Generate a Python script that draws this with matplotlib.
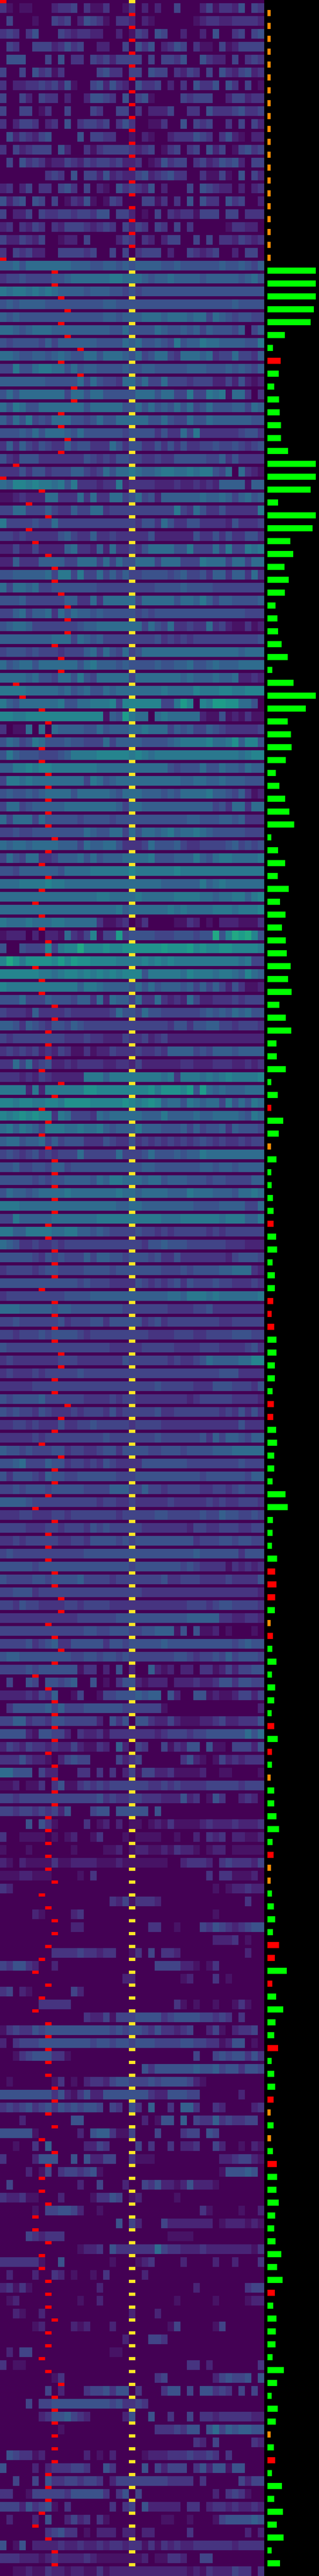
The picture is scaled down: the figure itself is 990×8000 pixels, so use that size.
from matplotlib import pyplot as plt
import numpy as np

# one string per row, 41 cells, hex level of the cell (groups of ten for reading)
heat_rows = [
"3101100023 3403113001 3020200400 0241332504 3",
"0400010043 4025431033 2021000000 1233223333 2",
"3430350004 3233220020 1430540020 0205003404 5",
"0430044423 5340022004 0535023540 3110412444 4",
"0555000405 0330434244 4404044350 0532204034 3",
"4004053413 0000045330 4405440324 3040532452 3",
"3022334342 5100452532 0533402030 5335053040 1",
"4004204330 2002554305 0451000043 4440024423 3",
"4004401300 4000430044 0302224003 3053334533 4",
"3024430230 5034434035 3001130050 4340030404 2",
"0524324500 0050443300 1021002333 5430352102 2",
"3042344405 2003134444 3234013403 4052401453 4",
"0405343122 4324344342 2301253440 3423545204 4",
"0000000343 0504425232 2452345330 0311410504 2",
"2302403304 5304021053 4325020004 0543220202 3",
"5245054040 1325101430 0044130305 0533053400 2",
"4022404334 4344355044 2010403233 1444044033 3",
"2303243032 4443234304 2430430403 0000013322 0",
"4224324001 2204000024 3032024400 4040332432 3",
"3043422004 4443400404 0344402004 3234002044 0",
"6675777777 7666556656 5666655655 5555655654 6",
"3445444455 6777777887 7765667666 6566666567 5",
"8788787876 6665666554 5455555555 5555555555 5",
"5656666555 5555556655 5555555555 5555556555 5",
"6565555555 5555556656 6677767776 7747654554 4",
"7765677766 6666666557 5555765565 6465554604 6",
"5455554646 6666655557 6755654856 6877666655 8",
"7765566567 6557757776 5745774377 7673447443 6",
"4485578877 5756655556 5566555556 6655565654 6",
"6666666555 5574754437 7574474443 4442242521 2",
"5757777777 4775775555 5777577448 4487817730 3",
"7587557777 7775777775 5757565757 4575556647 6",
"6475845477 7554575577 7775575447 5576666665 5",
"5556575777 6575555554 5555353374 8333333455 3",
"3636435433 6455333753 5533535353 3445445434 5",
"5325553333 3335434355 4433433555 5544635333 3",
"3335355344 4664347577 8766788778 7885470732 1",
"7699898878 5833323382 3333222322 3232666616 6",
"1123222773 3373733774 5745266666 6766764675 6",
"4477444643 3644773444 4444444843 7533533333 8",
"8444454474 4444444444 4355375335 5333325333 4",
"4434333335 6433633433 3335222222 5335353355 3",
"2242242222 6733262733 4357777558 4447484487 8",
"2263336666 4477747475 5777477744 4877747747 7",
"5566666748 8484474646 4455554564 4536636637 3",
"7477674455 5555544444 4444555565 5554444444 4",
"5556444444 6633737777 7477777577 6864665555 6",
"4467466737 5766565555 5454555555 5555555544 4",
"5677644444 4456677777 7747547334 3373421131 2",
"6666666677 7476564444 4444534343 4444444444 5",
"4555454443 4446747547 4577777777 7777777677 7",
"7567757777 7757866656 5555655667 5567666777 7",
"7777675547 7585477777 4777777767 6667667223 2",
"8888777776 7567557677 7777787777 9888998899 9",
"8657777778 5577888949 99999448b9 098bbaa775 0",
"9988999999 999999165b 8770787777 7211512131 1",
"3011707076 6665575666 7787774656 4465433333 4",
"5764587555 6554447466 6655556788 889778a699 5",
"5865554445 6888899999 8987888888 8888888789 9",
"6688989988 8888877777 7777775455 5755766576 6",
"4887877777 7774875677 7777777766 7766766655 5",
"5655656777 7577777657 7766656577 7786654631 2",
"4774566666 7777777764 7766666666 6664537737 7",
"7477747555 5545555455 5555555556 6555665633 3",
"4454455555 5557655774 7577678677 8765555544 4",
"7677677776 6647667753 3347555643 3444456454 5",
"4754773346 6675756667 7778555666 8657887777 8",
"5546666665 7777888888 9888888988 8888888888 8",
"7778888988 7777777777 7777766666 6867877777 7",
"7777777777 7777788777 7877777888 8776778868 9",
"7777777777 7777777786 7777778787 7778887888 9",
"8777877788 7777731123 0130000113 2010222111 3",
"1222020221 73249144b4 5555444555 455c59cbc9 5",
"5005444948 99c999a99a aaaaabaaab 9a99aa9999 8",
"9ca8aaaa9b 9baa999988 8898989888 8888888784 4",
"9999998878 9989898989 9958888879 8887887697 6",
"9888888888 8868876666 5757566656 4646425311 2",
"5557444655 5466372766 4733732327 4223334344 4",
"4333263333 4333333475 5475544444 4565657675 5",
"6653654355 4654444444 4444443553 5566443444 3",
"4344444444 3334332224 3342342222 2222222222 2",
"3434342324 3113122433 3433436666 4546665666 6",
"3374734522 3233332233 2422222233 2223332232 3",
"3332324322 2228886888 8888878388 8787898888 9",
"8888282888 888aa99999 999a8aaa9b 5b76766677 7",
"9989988998 aaaa99999a 989a967758 7677485758 7",
"989a9a9938 7444376777 7766686666 7667777658 7",
"7868764888 7787786566 6866655564 6455636555 4",
"6775667464 5553335433 5343434343 4543433434 4",
"4543453434 4474444474 4457555656 6877777777 7",
"5564455466 4555555555 5566555555 5665665666 6",
"5555545455 6666576887 7767756665 5545544446 6",
"5766567777 8777777787 7677776668 7776665778 7",
"8887777777 7777777766 7766666666 5555666644 7",
"4486666677 7777788888 8888877788 8888788866 8",
"8866888877 8866565444 4544343444 4434344444 4",
"7653343343 4444444444 4435565554 4444433322 2",
"5555543545 4446466554 5554533533 3333324555 4",
"3444434554 4445555455 5555544454 5555667773 2",
"5555555555 5545444333 3543434535 4445443334 3",
"3444444444 5555666666 6666667768 8878777777 8",
"7776666656 6555555554 4444443333 4453333333 3",
"4454444445 3444553555 5534534444 4444334444 4",
"4434445455 5543444444 4443333444 3344445554 4",
"5444444444 4444444333 3344444333 3444333345 3",
"3433333334 4433333335 4444443433 4576666779 9",
"3433343444 4454444444 4444444444 4444555333 3",
"3333344444 4444444444 4444544444 3335554443 5",
"5455556444 4443333434 4333333332 3444443333 2",
"5454435433 3434443534 4444533444 4444343535 3",
"3344343335 3344544444 3444433333 3333333533 3",
"3333343444 4444445444 4444544444 4536466546 6",
"6554544455 3443345535 5554455545 5556667777 7",
"5567444655 3443435433 3355555554 4444444544 4",
"5355543655 4455555544 4555555555 5455555546 6",
"4454555455 5554444666 4464434444 4334434544 4",
"6666544444 4444434433 4333334333 3343433444 3",
"3334433344 3444444434 4444554444 4544655445 4",
"4444333443 4443545444 4433333332 4433444334 4",
"3343444443 3443555545 4555555555 3444554554 4",
"4544444444 4445555555 5555555555 6555555355 5",
"5555545555 5555555555 4555555545 4333313232 3",
"5444455455 5564444344 4444453344 4333343333 5",
"4455534444 4444444444 4433333333 3333333333 2",
"4435443333 4434444333 3333333334 4434554444 3",
"3333333333 3344444455 5555555556 6666332233 2",
"4444444444 4445544555 4455666150 5112010001 0",
"4444534563 3555553554 5555565555 5555554565 5",
"5665555555 5445545545 4444444554 3445464555 4",
"4444545555 5513302050 2006212022 0331242445 5",
"0400540554 5600501035 5212220222 3223553554 4",
"2222324360 0140014455 5656605200 5512112442 4",
"0355555646 4445555554 4444410000 0000000000 2",
"4466344355 4444420535 0553224211 1223422333 5",
"5555215544 2032231333 3333234443 4455555575 7",
"2432433232 2421132062 0430041325 5051104442 5",
"3335322102 4544000042 3400000035 2101423233 3",
"7755504220 0033030302 4144223111 1200110000 1",
"1120113035 1134343444 4443343433 3344444344 4",
"4434444444 4444453433 4433322252 3015300232 0",
"4434434342 5000455055 5550500000 0000000000 0",
"0000505310 0003012020 1101213111 1232223222 3",
"3001111010 1200130001 0111100100 2032302211 2",
"1000100000 0100001120 1221121322 1012201111 1",
"2102111131 1222211121 1111110023 3320343332 4",
"1112211100 0010300000 0000000000 0030331112 0",
"3200000000 0000000000 0000000000 0001012232 2",
"0000000000 0000000324 1333200000 0000000030 0",
"0000021000 0230000000 0000000000 0001000000 0",
"0000000000 0220000000 0003300100 0435432345 5",
"0000000000 0000000000 0000000000 0002223010 0",
"0000000033 3343323300 1304033200 0000000020 0",
"4355320020 0000000000 0000444422 1013000000 0",
"0000000000 0000000002 2000000012 0003010000 0",
"3402100000 0420000000 0000000000 0000000000 0",
"0000003333 3000000000 0000000310 1001001310 0",
"0000000000 0003224144 4555534555 5443430300 0",
"1343354555 5555555454 5543533234 0024102334 0",
"2034445555 5555455455 4555444455 4433125501 0",
"0013455533 1000000000 0000000000 4004545535 3",
"0000000000 0000000000 0053555555 6556455355 4",
"0100000013 0102332455 4445455554 2100000000 0",
"5555555535 2135225555 5553225554 4000000200 0",
"3434534535 4545540430 5306003066 3003200002 3",
"0002000000 0550000000 0020155060 4336343344 0",
"5555510000 0020566311 4000400034 4054000000 0",
"0010030600 0002243000 0403003022 3004200102 1",
"3000025550 0505224400 3111000000 0000223442 1",
"0000201403 4434510000 0000000000 0000155565 0",
"0400000000 0020040002 0043522125 2221000000 0",
"3223110002 0000133540 1200000100 0000000000 0",
"0000010445 5420010000 0000000000 0310000100 2",
"0000000000 0000000050 4200042222 2220122212 1",
"0000432333 0000000000 0000001111 0000000000 0",
"0000000000 0012230533 3333743322 2322222221 3",
"3333331005 0000000100 0123000020 0002002000 3",
"0200020032 0100103000 0020000000 0000000000 0",
"2313100000 0000020000 0000000000 2000000034 4",
"0120000000 0010020000 0000000100 0001000012 2",
"0021002000 0000000000 2000200000 0000000000 0",
"0000012000 0212000200 0000001400 0001400000 0",
"0000000000 0000000002 0004430000 0000000000 0",
"0204400000 0000000110 0000000000 0000000000 0",
"3011000000 0000000000 0000000003 3020000000 3",
"0000000013 0000000000 0000340000 0002454450 5",
"0000000402 0003445355 0300035504 0553430404 0",
"0000404455 5555555453 3430000000 0000000000 0",
"0000002355 6432000002 5005003004 0332333332 2",
"0000000001 0000000000 0000333435 5057465665 5",
"0000000000 0000000000 0000000000 3204000003 2",
"0543312000 0002010200 0012223334 3343030000 0",
"5000020233 3443005300 0050424440 3525515500 0",
"0040040533 4434430244 4444443333 0300000424 4",
"3300144444 3555553035 0400000000 0002034310 0",
"4442534510 3000000303 4052222203 3023323223 2",
"0200020500 2423031000 0000011001 0001455556 5",
"0000000345 3301022202 2022000003 0000000020 2",
"5015022223 2232232332 3313132322 3333332333 3",
"3332221232 2223211111 1120113320 0440000000 0",
"0011211322 1221131222 2222222221 2132224330 3",
]

# column of the red cell in the thin strip above each row, yellow is always column 20
pred_col = [0] + [20] * 19 + [0, 8, 8, 9, 10, 9, 10, 12, 9, 12, 11, 11, 9, 9, 10, 9, 2, 0, 6, 4,
    7, 4, 5, 7, 8, 8, 9, 10, 10, 10, 8, 9, 9, 2, 3, 6, 7, 7, 6, 6, 7, 7, 7, 7, 7, 8, 7, 6,
    7, 6, 5, 6, 6, 7, 7, 5, 6, 6, 8, 8, 7, 7, 7, 6, 9, 8, 6, 7,
    6, 7, 8, 8, 8, 8, 8, 7, 7, 8, 8, 8, 6, 8, 8, 8, 8, 9, 9, 8,
    8, 10, 9, 8, 6, 9, 8, 8, 7, 5, 8, 7, 7, 7, 8, 8, 9, 9, 7, 8,
    9, 8, 5, 7, 8, 8, 8, 8, 7, 8, 8, 8, 8, 7, 7, 7, 7, 7, 8, 6, 7,
    8, 8, 7, 6, 5, 7, 6, 5, 7, 7, 7, 7, 7, 8, 8, 7, 8, 6, 8, 7, 6,
    6, 7, 5, 5, 7, 6, 6, 7, 7, 7, 8, 7, 7, 6, 7, 9, 8, 8, 8, 8,
    8, 8, 7, 7, 7, 6, 5, 7, 8, 8]

# bar length per row (pixels of the side panel), last row has no bar
bar_len = [10] * 20 + [150, 150, 150, 144, 134, 54, 17, 41,
    35, 21, 36, 38, 42, 42, 64, 150, 150, 134, 33, 150, 140, 71, 80, 53, 66, 54, 25,
    31, 33, 44, 63, 15, 81, 150, 119, 63, 73, 75, 57, 26, 37, 55, 68, 83, 12, 33, 55,
    32, 66, 39, 56, 45, 57, 60, 72, 64, 75, 37, 57, 74, 28, 29, 57, 12, 32, 12, 49,
    35, 11, 28, 12, 13, 17, 19, 19, 27, 30, 16, 23, 23, 18, 13, 21, 28, 28, 23, 23,
    16, 20, 18, 27, 30, 21, 21, 16, 56, 63, 17, 16, 14, 30, 24, 28, 24, 23, 10, 17,
    15, 28, 14, 24, 21, 13, 21, 32, 14, 14, 10, 21, 21, 28, 36, 16, 19, 11, 10, 14, 20,
    24, 17, 36, 23, 60, 15, 27, 49, 25, 21, 33, 13, 21, 24, 19, 10, 19, 11, 17, 29, 30, 28,
    35, 24, 21, 25, 43, 30, 47, 23, 18, 28, 26, 25, 16, 51, 30, 13, 32, 26, 10, 20,
    24, 14, 45, 21, 48, 29, 50, 13, 39, 0]

red_rows = [27, 85, 94, 100, 101, 102, 108, 109, 121, 122, 123, 126, 133, 135, 143, 150, 151,
    153, 158, 162, 167, 177, 190]
orange_rows = list(range(20)) + [88, 125, 137, 144, 145, 163, 165, 188]


def main():
    rows = [r.replace(" ", "").ljust(41, "0")[:41] for r in heat_rows]
    for i, r in enumerate(heat_rows):
        if len(r.replace(" ", "")) != 41:
            print("bad row", i, len(r.replace(" ", "")))
    n = len(rows)
    print(n, len(pred_col), len(bar_len))
    levels = np.array([[int(c, 16) for c in r] for r in rows]) * 0.05

    # every row = thin strip of 10px + cells of 30px
    grid = np.zeros((n * 2, 41))
    grid[1::2] = levels
    y_edges = np.sort(np.concatenate([np.arange(n + 1), np.arange(n) + 0.25]))
    x_edges = np.arange(42)

    fig = plt.figure(figsize=(9.9, 80), dpi=100, facecolor="black")
    ax = fig.add_axes([0, 0, 820 / 990, 1])
    ax.pcolormesh(x_edges, y_edges, grid, cmap="viridis", vmin=0, vmax=1, antialiased=False)

    row_idx = np.arange(n)
    ax.bar(np.full(n, 20), 0.25, width=1, bottom=row_idx, align="edge", color="#fde725", antialiased=False)
    ax.bar(pred_col, 0.25, width=1, bottom=row_idx[:len(pred_col)], align="edge", color="#ff0000", antialiased=False)
    ax.set_xlim(0, 41)
    ax.set_ylim(n, 0)
    ax.axis("off")

    side = fig.add_axes([830 / 990, 0, 160 / 990, 1])
    colors = ["#00ff00"] * n
    for i in red_rows:
        colors[i] = "#ff0000"
    for i in orange_rows:
        colors[i] = "#ff8c00"
    side.barh(row_idx[:len(bar_len)] + 0.775, bar_len, height=0.475, align="edge", color=colors, antialiased=False)
    side.set_xlim(0, 160)
    side.set_ylim(n, 0)
    side.axis("off")

    fig.savefig("out.png", dpi=100, facecolor="black")


if __name__ == "__main__":
    main()
